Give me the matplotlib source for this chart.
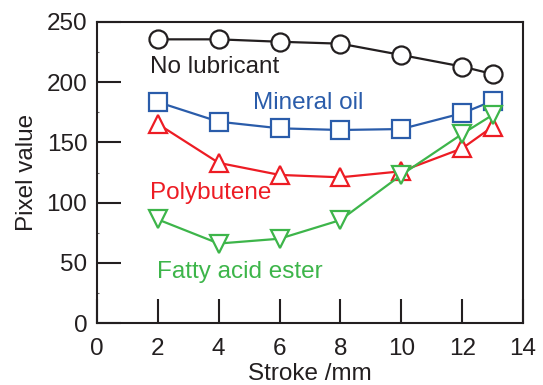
import matplotlib.pyplot as plt
from matplotlib.ticker import MultipleLocator

plt.rcParams['font.family'] = ['Liberation Sans', 'DejaVu Sans']

stroke = [2, 4, 6, 8, 10, 12, 13]
no_lubricant = [235.6, 235.6, 233.6, 232, 222.6, 213, 206.8]
mineral_oil = [183.5, 167.2, 161.7, 160.3, 161.1, 174.2, 184.4]
polybutene = [165.3, 133, 123, 121, 126, 145, 163]
fatty_acid_ester = [86, 66, 70, 85.5, 123, 157, 172.8]

xticks = [0, 2, 4, 6, 8, 10, 12, 14]
yticks = [0, 50, 100, 150, 200, 250]

BLACK = '#231f20'
BLUE = '#2a5caa'
RED = '#ed1c24'
GREEN = '#3db54a'


def draw(ax):
    style = dict(lw=1.6, ms=13, mew=1.6, markerfacecolor='white', clip_on=False)
    ax.plot(stroke, no_lubricant, color=BLACK, marker='o', **style)
    ax.plot(stroke, mineral_oil, color=BLUE, marker='s', **style)
    ax.plot(stroke, polybutene, color=RED, marker='^', **style)
    ax.plot(stroke, fatty_acid_ester, color=GREEN, marker='v', **style)

    fs = 17.5
    ax.text(1.74, 212.6, 'No lubricant', color=BLACK, fontsize=fs, va='center')
    ax.text(5.13, 182.7, 'Mineral oil', color=BLUE, fontsize=fs, va='center')
    ax.text(1.74, 108, 'Polybutene', color=RED, fontsize=fs, va='center')
    ax.text(1.97, 42, 'Fatty acid ester', color=GREEN, fontsize=fs, va='center')

    ax.set_xlim(0, 14)
    ax.set_ylim(0, 250)
    ax.set_xticks(xticks)
    ax.set_yticks(yticks)
    ax.yaxis.set_minor_locator(MultipleLocator(25))
    ax.tick_params(which='major', direction='in', length=17, width=1.5,
                   color=BLACK, labelsize=fs, labelcolor=BLACK, pad=7,
                   top=False, right=False)
    ax.tick_params(axis='x', which='major', pad=11)
    ax.tick_params(which='minor', direction='in', length=1.5, width=0.8,
                   color='#666666', top=False, right=False, bottom=False)
    for s in ax.spines.values():
        s.set_linewidth(1.5)
        s.set_color(BLACK)
    ax.set_xlabel('Stroke /mm', fontsize=fs, color=BLACK, labelpad=2)
    ax.set_ylabel('Pixel value', fontsize=fs, color=BLACK, labelpad=6)


def main():
    fig = plt.figure(figsize=(5.43, 3.85), dpi=100)
    ax = fig.add_axes([97 / 543, 62 / 385, 426 / 543, 301 / 385])
    draw(ax)
    fig.savefig('out.png', dpi=100)


if __name__ == '__main__':
    main()
